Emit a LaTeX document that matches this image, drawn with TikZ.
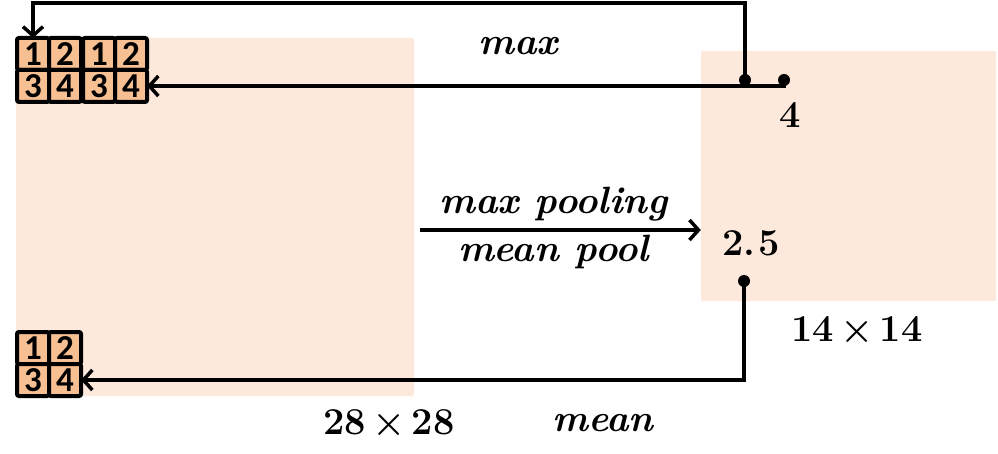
\documentclass[tikz,border=0pt]{standalone}
\usepackage{fontspec}
\newfontfamily\cellfont{Carlito}
\usetikzlibrary{arrows,arrows.meta,positioning}
\definecolor{mapfill}{RGB}{252,233,219}
\definecolor{cellfill}{RGB}{247,192,146}
\tikzstyle{fmap} = [rectangle, fill=mapfill, rounded corners=2pt, inner sep=0pt]
\tikzstyle{cell} = [rectangle, draw, line width=4pt, fill=cellfill, rounded corners=2pt,
    minimum size=32pt, inner sep=0pt, outer sep=0pt,
    font=\cellfont\bfseries\fontsize{35}{35}\selectfont]
\tikzstyle{dot} = [circle, fill=black, minimum size=12pt, inner sep=0pt]
\tikzstyle{link} = [-{Straight Barb[length=9pt,width=20pt]}, line width=3.5pt]
\tikzstyle{op} = [font=\fontsize{38}{40}\selectfont\bfseries\itshape]
\tikzstyle{num} = [font=\fontsize{38}{40}\selectfont\bfseries]

\begin{document}
\begin{tikzpicture}[x=1pt,y=-1pt]
  \useasboundingbox (0,0) rectangle (998,454);
  % Place nodes
  \node [fmap, minimum width=398pt, minimum height=358pt] (input) at (215,217) {};
  \node [fmap, minimum width=295pt, minimum height=250pt] (output) at (848.5,176) {};
  \foreach \g/\x/\y in {a/33/54, b/99/54, c/33/348} {
    \node [cell] (\g1) at (\x,\y) {1};
    \node [cell, right=0pt of \g1] (\g2) {2};
    \node [cell, below=0pt of \g1] (\g3) {3};
    \node [cell, right=0pt of \g3] (\g4) {4};
  }
  \node [dot] (dmax) at (745,80) {};
  \node [dot] (dval) at (784,80) {};
  \node [dot] (dmean) at (744,281) {};
  % Place labels
  \node [op] (maxlbl) at (518,46) {max};
  \node [num] (maxval) at (790,115) {4};
  \node [num] (meanval) at (751,243) {2.\kern3pt5};
  \node [num] (outsize) at (857,330) {14\,×\,14};
  \node [num] (insize) at (389,423) {28\,×\,28};
  \node [op] (meanlbl) at (603,423) {mean};
  % Draw edges
  \draw [link] (dmax.center) -- ++(0,-77) -| (a1.north);
  \draw [link] (dval.center) |- (b4.east);
  \draw [link] (dmean.center) |- (c4.east);
  \draw [link] ([xshift=6pt,yshift=-13pt]input.east) --
    node [op, above, xshift=-7pt, yshift=4pt] {max pooling}
    node [op, below, xshift=-7pt] {mean pool}
    ([yshift=-54pt]output.west);
\end{tikzpicture}
\end{document}
